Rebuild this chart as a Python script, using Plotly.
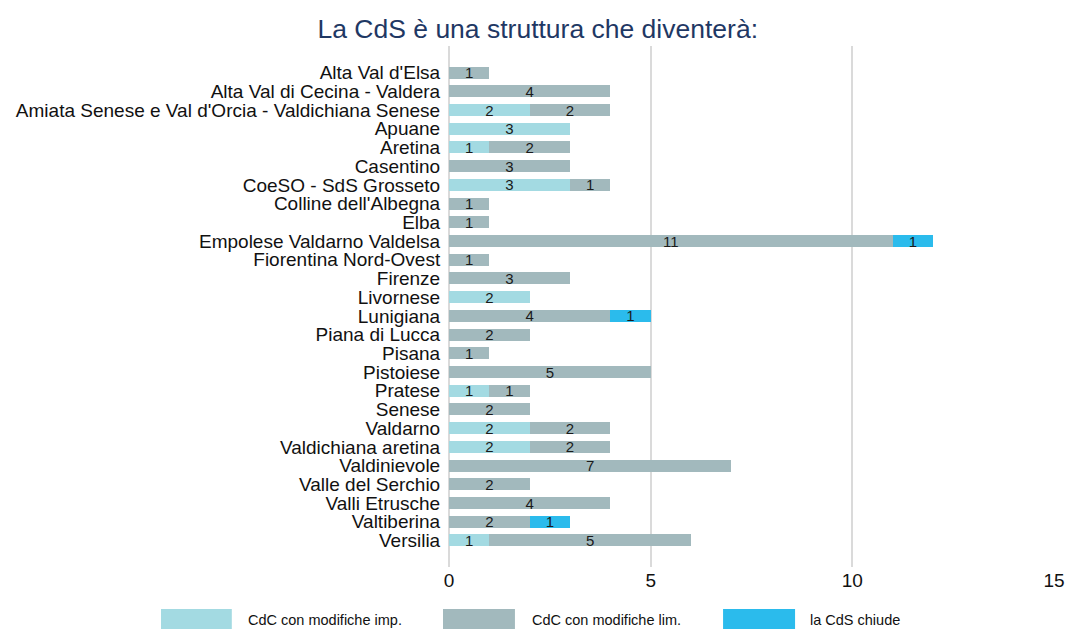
import plotly.graph_objects as go

categories = [
    "Alta Val d'Elsa", "Alta Val di Cecina - Valdera",
    "Amiata Senese e Val d'Orcia - Valdichiana Senese", "Apuane", "Aretina",
    "Casentino", "CoeSO - SdS Grosseto", "Colline dell'Albegna", "Elba",
    "Empolese Valdarno Valdelsa", "Fiorentina Nord-Ovest", "Firenze",
    "Livornese", "Lunigiana", "Piana di Lucca", "Pisana", "Pistoiese",
    "Pratese", "Senese", "Valdarno", "Valdichiana aretina", "Valdinievole",
    "Valle del Serchio", "Valli Etrusche", "Valtiberina", "Versilia",
]
mod_imp = [0, 0, 2, 3, 1, 0, 3, 0, 0, 0, 0, 0, 2, 0, 0, 0, 0, 1, 0, 2, 2, 0, 0, 0, 0, 1]
mod_lim = [1, 4, 2, 0, 2, 3, 1, 1, 1, 11, 1, 3, 0, 4, 2, 1, 5, 1, 2, 2, 2, 7, 2, 4, 2, 5]
chiude = [0, 0, 0, 0, 0, 0, 0, 0, 0, 1, 0, 0, 0, 1, 0, 0, 0, 0, 0, 0, 0, 0, 0, 0, 1, 0]

series_names = ["CdC con modifiche imp.", "CdC con modifiche lim.", "la CdS chiude"]
series_values = [mod_imp, mod_lim, chiude]
colors = ["#a3dae2", "#a2b9bd", "#2bbbec"]
x_ticks = [0, 5, 10, 15]

FONT = "Liberation Sans"

fig = go.Figure()
for name, vals, col in zip(series_names, series_values, colors):
    fig.add_trace(go.Bar(
        y=categories, x=vals, name=name, orientation="h",
        marker=dict(color=col, line=dict(width=0)),
        text=[str(v) if v else "" for v in vals],
        textposition="inside", insidetextanchor="middle",
        textangle=0, constraintext="none",
        insidetextfont=dict(family=FONT, size=15, color="#1a1a1a"),
        showlegend=False,
    ))

n = len(categories)
fig.update_layout(
    barmode="stack", bargap=0.36,
    width=1067, height=629,
    margin=dict(l=449, r=13, t=46, b=62, autoexpand=False),
    paper_bgcolor="white", plot_bgcolor="white",
    font=dict(family=FONT, size=19, color="#111111"),
    title=dict(text="La CdS è una struttura che diventerà:", x=0.504, xanchor="center",
               y=0.955, yanchor="middle",
               font=dict(family=FONT, size=26.5, color="#1f3864")),
    xaxis=dict(range=[0, 15], tickmode="array", tickvals=x_ticks, showgrid=True,
               gridcolor="#dadada", gridwidth=2, zeroline=True, zerolinecolor="#dadada",
               zerolinewidth=2, showline=False, tickfont=dict(size=19), ticks="",
               automargin=False),
    yaxis=dict(type="category", categoryorder="array", categoryarray=categories,
               tickmode="array", tickvals=categories, ticktext=categories,
               range=[n - 1 + 1.42, -1.42], showgrid=False, ticks="outside",
               ticklen=4, tickcolor="rgba(0,0,0,0)", tickfont=dict(size=19),
               automargin=False),
)

# Manual legend (wide swatches as in the reference)
leg_y0, leg_y1 = -0.0806, -0.119
swatch_x = [(-0.476, -0.359), (-0.0099, 0.109), (0.453, 0.572)]
text_x = [-0.3355, 0.134, 0.593]
for (x0, x1), tx, name, col in zip(swatch_x, text_x, series_names, colors):
    fig.add_shape(type="rect", xref="paper", yref="paper", x0=x0, x1=x1,
                  y0=leg_y1, y1=leg_y0, fillcolor=col, line=dict(width=0))
    fig.add_annotation(xref="paper", yref="paper", x=tx, y=-0.1017,
                       text=name, showarrow=False, xanchor="left", yanchor="middle",
                       font=dict(family=FONT, size=14.5, color="#111111"))

fig.write_html("out.html", config={"displayModeBar": False},
               post_script="document.body.style.margin='0px';document.body.style.overflow='hidden';")
